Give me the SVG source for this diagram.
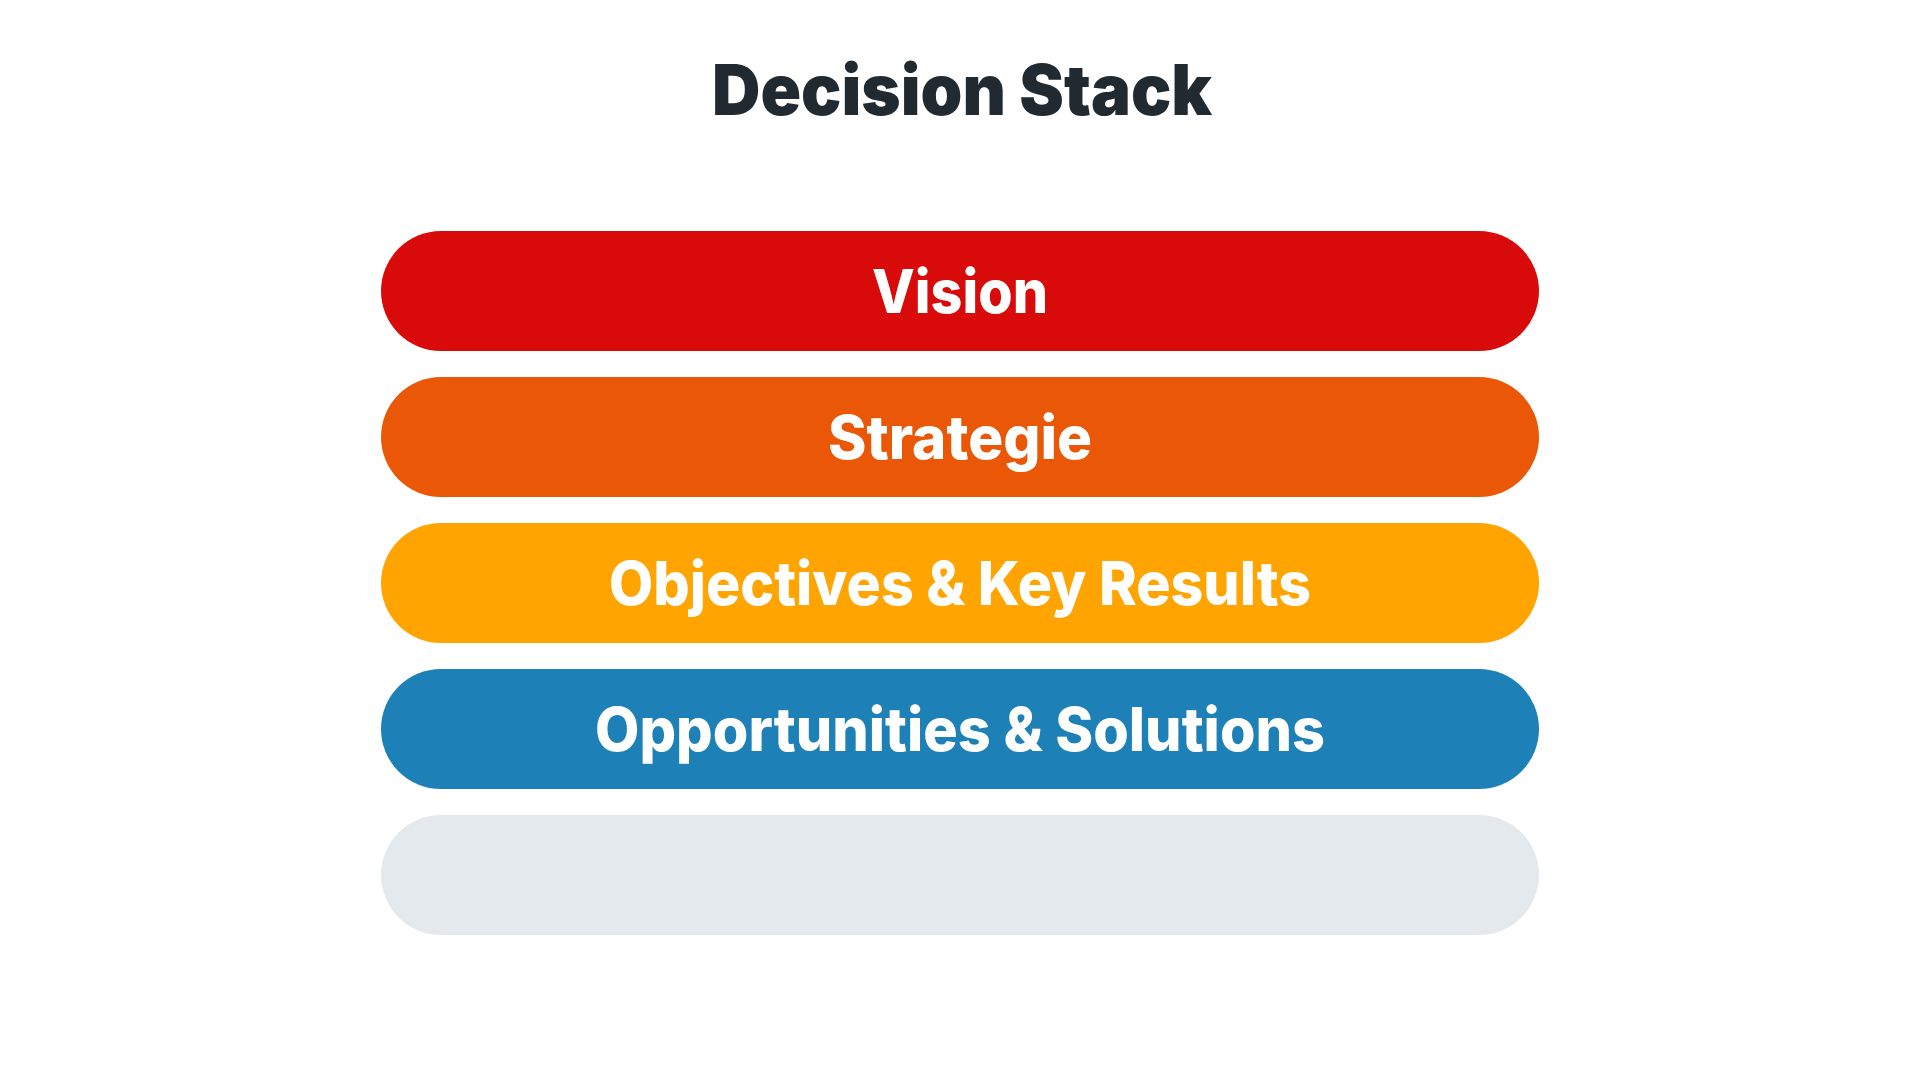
<svg xmlns="http://www.w3.org/2000/svg" width="1920" height="1080" viewBox="0 0 1920 1080">
<style>
.bar{stroke:none}
.lbl{font-family:Inter,"Noto Sans","Liberation Sans",sans-serif;font-weight:800;font-size:60px;fill:#ffffff;text-anchor:middle}
.title{font-family:Inter,"Noto Sans","Liberation Sans",sans-serif;font-weight:900;font-size:70px;fill:#222a31;text-anchor:middle}
</style>
<rect width="1920" height="1080" fill="#ffffff"/>
<text class="title" x="962" y="115" textLength="500" lengthAdjust="spacingAndGlyphs">Decision Stack</text>
<g id="vision">
<rect class="bar" x="381" y="231" width="1158" height="120" rx="60" fill="#d90a0a"/>
<text class="lbl" x="960" y="313" textLength="176" lengthAdjust="spacingAndGlyphs">Vision</text>
</g>
<g id="strategie">
<rect class="bar" x="381" y="377" width="1158" height="120" rx="60" fill="#ea5706"/>
<text class="lbl" x="960" y="459" textLength="264" lengthAdjust="spacingAndGlyphs">Strategie</text>
</g>
<g id="okr">
<rect class="bar" x="381" y="523" width="1158" height="120" rx="60" fill="#ffa400"/>
<text class="lbl" x="960" y="605" textLength="702" lengthAdjust="spacingAndGlyphs">Objectives &amp; Key Results</text>
</g>
<g id="opportunities">
<rect class="bar" x="381" y="669" width="1158" height="120" rx="60" fill="#1d80b6"/>
<text class="lbl" x="960" y="751" textLength="730" lengthAdjust="spacingAndGlyphs">Opportunities &amp; Solutions</text>
</g>
<g id="empty">
<rect class="bar" x="381" y="815" width="1158" height="120" rx="60" fill="#e4e9ed"/>
</g>
<g id="connectors"></g>
</svg>
